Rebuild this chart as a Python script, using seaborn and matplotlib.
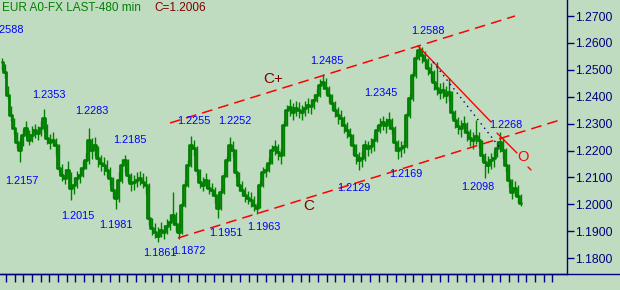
import numpy as np
import pandas as pd
import seaborn as sns
import matplotlib
matplotlib.use("Agg")
import matplotlib.pyplot as plt
from matplotlib.lines import Line2D

# ---------------- data ----------------
close = [1.2529, 1.2492, 1.2406, 1.2332, 1.2284, 1.2232, 1.2202, 1.2257, 1.2284, 1.2239,
         1.2257, 1.2276, 1.2265, 1.2284, 1.2321, 1.2246, 1.2232, 1.2239, 1.2220, 1.2135,
         1.2109, 1.2098, 1.2127, 1.2061, 1.2072, 1.2098, 1.2109, 1.2135, 1.2164, 1.2239,
         1.2202, 1.2220, 1.2172, 1.2153, 1.2146, 1.2127, 1.2098, 1.2053, 1.2024, 1.2090,
         1.2146, 1.2164, 1.2109, 1.2079, 1.2083, 1.2090, 1.2098, 1.2083, 1.2072, 1.1949,
         1.1912, 1.1897, 1.1882, 1.1905, 1.1897, 1.1920, 1.1934, 1.1960, 1.1927, 1.1897,
         1.1997, 1.2072, 1.2146, 1.2220, 1.2209, 1.2127, 1.2083, 1.2072, 1.2090, 1.2061,
         1.2053, 1.2034, 1.1986, 1.2046, 1.2105, 1.2164, 1.2220, 1.2202, 1.2120, 1.2072,
         1.2053, 1.2034, 1.2024, 1.2016, 1.1997, 1.1986, 1.2072, 1.2120, 1.2127, 1.2153,
         1.2202, 1.2213, 1.2194, 1.2183, 1.2294, 1.2350, 1.2362, 1.2343, 1.2358, 1.2350,
         1.2343, 1.2358, 1.2369, 1.2365, 1.2388, 1.2406, 1.2443, 1.2455, 1.2432, 1.2406,
         1.2377, 1.2350, 1.2332, 1.2321, 1.2294, 1.2276, 1.2257, 1.2220, 1.2183, 1.2164,
         1.2172, 1.2220, 1.2209, 1.2217, 1.2239, 1.2276, 1.2294, 1.2306, 1.2294, 1.2313,
         1.2284, 1.2232, 1.2202, 1.2209, 1.2217, 1.2332, 1.2395, 1.2481, 1.2544, 1.2574,
         1.2555, 1.2536, 1.2507, 1.2492, 1.2455, 1.2432, 1.2417, 1.2425, 1.2406, 1.2417,
         1.2343, 1.2313, 1.2291, 1.2284, 1.2298, 1.2269, 1.2246, 1.2239, 1.2254, 1.2239,
         1.2183, 1.2157, 1.2146, 1.2164, 1.2172, 1.2209, 1.2232, 1.2202, 1.2146, 1.2090,
         1.2046, 1.2061, 1.2031, 1.2006]

high = [1.2545, 1.2520, 1.2440, 1.2365, 1.2320, 1.2270, 1.2245, 1.2280, 1.2310, 1.2275,
        1.2290, 1.2300, 1.2290, 1.2310, 1.2353, 1.2300, 1.2260, 1.2270, 1.2245, 1.2225,
        1.2150, 1.2130, 1.2160, 1.2120, 1.2100, 1.2125, 1.2140, 1.2160, 1.2190, 1.2283,
        1.2245, 1.2250, 1.2215, 1.2185, 1.2175, 1.2165, 1.2140, 1.2100, 1.2060, 1.2120,
        1.2170, 1.2185, 1.2170, 1.2115, 1.2110, 1.2120, 1.2125, 1.2115, 1.2105, 1.2080,
        1.1950, 1.1930, 1.1915, 1.1935, 1.1925, 1.1945, 1.1965, 1.2045, 1.1970, 1.1935,
        1.2010, 1.2090, 1.2165, 1.2255, 1.2240, 1.2215, 1.2130, 1.2100, 1.2115, 1.2095,
        1.2080, 1.2065, 1.2040, 1.2060, 1.2120, 1.2180, 1.2252, 1.2235, 1.2205, 1.2120,
        1.2085, 1.2065, 1.2050, 1.2045, 1.2030, 1.2010, 1.2085, 1.2140, 1.2150, 1.2175,
        1.2220, 1.2240, 1.2225, 1.2210, 1.2310, 1.2370, 1.2390, 1.2375, 1.2385, 1.2380,
        1.2370, 1.2385, 1.2395, 1.2390, 1.2410, 1.2430, 1.2465, 1.2485, 1.2470, 1.2440,
        1.2410, 1.2385, 1.2360, 1.2350, 1.2330, 1.2305, 1.2285, 1.2260, 1.2225, 1.2195,
        1.2200, 1.2240, 1.2235, 1.2245, 1.2260, 1.2295, 1.2320, 1.2330, 1.2320, 1.2345,
        1.2320, 1.2290, 1.2240, 1.2235, 1.2240, 1.2345, 1.2410, 1.2495, 1.2560, 1.2588,
        1.2585, 1.2570, 1.2545, 1.2525, 1.2500, 1.2530, 1.2450, 1.2455, 1.2440, 1.2470,
        1.2420, 1.2350, 1.2325, 1.2315, 1.2330, 1.2305, 1.2280, 1.2270, 1.2313, 1.2270,
        1.2240, 1.2190, 1.2180, 1.2190, 1.2200, 1.2235, 1.2268, 1.2245, 1.2210, 1.2150,
        1.2095, 1.2085, 1.2070, 1.2040]

low = [1.2500, 1.2470, 1.2390, 1.2310, 1.2260, 1.2210, 1.2157, 1.2215, 1.2250, 1.2220,
       1.2230, 1.2245, 1.2240, 1.2255, 1.2270, 1.2225, 1.2205, 1.2215, 1.2185, 1.2120,
       1.2085, 1.2075, 1.2095, 1.2015, 1.2040, 1.2060, 1.2080, 1.2100, 1.2130, 1.2150,
       1.2170, 1.2180, 1.2140, 1.2125, 1.2110, 1.2100, 1.2070, 1.2025, 1.1981, 1.2010,
       1.2080, 1.2120, 1.2085, 1.2050, 1.2055, 1.2065, 1.2070, 1.2060, 1.2040, 1.1925,
       1.1885, 1.1875, 1.1861, 1.1880, 1.1870, 1.1890, 1.1905, 1.1925, 1.1900, 1.1872,
       1.1890, 1.1990, 1.2065, 1.2140, 1.2180, 1.2110, 1.2060, 1.2050, 1.2060, 1.2040,
       1.2030, 1.2005, 1.1951, 1.1980, 1.2040, 1.2100, 1.2160, 1.2175, 1.2100, 1.2050,
       1.2030, 1.2010, 1.2000, 1.1990, 1.1975, 1.1963, 1.1985, 1.2065, 1.2100, 1.2120,
       1.2150, 1.2185, 1.2165, 1.2150, 1.2180, 1.2290, 1.2330, 1.2315, 1.2330, 1.2320,
       1.2315, 1.2330, 1.2340, 1.2335, 1.2355, 1.2380, 1.2400, 1.2430, 1.2410, 1.2380,
       1.2350, 1.2325, 1.2300, 1.2290, 1.2265, 1.2245, 1.2220, 1.2185, 1.2150, 1.2129,
       1.2140, 1.2160, 1.2180, 1.2190, 1.2200, 1.2230, 1.2265, 1.2275, 1.2265, 1.2280,
       1.2260, 1.2200, 1.2169, 1.2175, 1.2190, 1.2210, 1.2320, 1.2385, 1.2470, 1.2535,
       1.2525, 1.2505, 1.2480, 1.2460, 1.2425, 1.2405, 1.2390, 1.2395, 1.2375, 1.2385,
       1.2320, 1.2285, 1.2260, 1.2250, 1.2265, 1.2235, 1.2215, 1.2205, 1.2225, 1.2210,
       1.2160, 1.2098, 1.2115, 1.2130, 1.2140, 1.2175, 1.2195, 1.2170, 1.2120, 1.2065,
       1.2020, 1.2030, 1.2005, 1.1995]

price_ticks = [1.18, 1.19, 1.20, 1.21, 1.22, 1.23, 1.24, 1.25, 1.26, 1.27]
peak_texts = ["1.2588", "1.2353", "1.2283", "1.2185", "1.2157", "1.2015", "1.1981",
              "1.1861", "1.1872", "1.2255", "1.2252", "1.1951", "1.1963", "1.2485",
              "1.2345", "1.2129", "1.2169", "1.2588", "1.2268", "1.2098"]
title_text = "EUR A0-FX LAST-480 min"
last_text = "C=1.2006"

# ---------------- layout helpers ----------------
W, H = 620, 290
Y0, PPU = 1.27595, 0.0003717       # price at top edge, price per pixel


def px(x):  # pixel x -> bar index
    return (x - 1.5) / 3.0


def py(y):  # pixel y -> price
    return Y0 - PPU * y


BG = "#C0DCC0"
NAVY = "#000080"
GREEN = "#008000"
BLUE = "#0000FF"
DRED = "#800000"
RED = "#FF0000"

sns.set_style("white", {"axes.facecolor": BG, "figure.facecolor": BG})
plt.rcParams["font.family"] = ["Liberation Sans", "DejaVu Sans"]

fig = plt.figure(figsize=(W / 100, H / 100), dpi=100)
fig.patch.set_facecolor(BG)
ax = fig.add_axes([0, 16 / H, 567 / W, 274 / H])
ax.set_facecolor(BG)

bars = np.arange(len(close))
df = pd.DataFrame({"bar": bars, "close": close, "high": high, "low": low})

ax.vlines(df["bar"], df["low"], df["high"], color=GREEN, lw=1.0, zorder=3)
sns.lineplot(data=df, x="bar", y="close", color=GREEN, lw=2.0,
             drawstyle="steps-mid", ax=ax, zorder=4)

# trend / channel lines
dash = (0, (7, 4))
ax.plot([px(170), px(515)], [py(123), py(16)], color=RED, lw=1.1, ls=dash, zorder=5)
ax.plot([px(178), px(560)], [py(238), py(120)], color=RED, lw=1.1, ls=dash, zorder=5)
ax.plot([px(418), px(491)], [py(46), py(122)], color=RED, lw=1.0, zorder=5)
ax.plot([px(497), px(517)], [py(133), py(153)], color=RED, lw=1.0, zorder=5)
ax.plot([px(528), px(531)], [py(167), py(170)], color=RED, lw=1.0, zorder=5)
ax.plot([px(433), px(500)], [py(62), py(148)], color=NAVY, lw=1.0,
        ls=(0, (1, 3)), zorder=5)

# peak labels (left x, center y in pixels)
label_pos = [(-10, 30), (32, 95), (75, 111), (113, 140), (5, 181), (61, 216),
             (99, 225), (143, 253), (172, 251), (177, 121), (218, 121), (209, 233),
             (247, 227), (310, 61), (364, 93), (337, 188), (389, 174), (411, 31),
             (489, 125), (461, 187)]
for t, (lx, ly) in zip(peak_texts, label_pos):
    ax.text(px(lx), py(ly), t, color=BLUE, fontsize=7.8, ha="left", va="center",
            zorder=6)

ax.text(px(263), py(79), "C+", color=DRED, fontsize=11, ha="left", va="center", zorder=6)
ax.text(px(303), py(206), "C", color=DRED, fontsize=11, ha="left", va="center", zorder=6)
ax.text(px(517), py(157), "O", color=RED, fontsize=10.5, ha="left", va="center", zorder=6)

fig.text(2 / W, 1 - 8 / H, title_text, color=GREEN, fontsize=8.5, ha="left", va="center")
fig.text(154 / W, 1 - 8 / H, last_text, color=DRED, fontsize=8.5, ha="left", va="center")

# axes styling
ax.set_xlim(px(0), px(567))
ax.set_ylim(py(274), py(0))
ax.set_xlabel("")
ax.set_ylabel("")
for s in ["top", "left"]:
    ax.spines[s].set_visible(False)
for s in ["right", "bottom"]:
    ax.spines[s].set_visible(True)
    ax.spines[s].set_color(NAVY)
    ax.spines[s].set_linewidth(1.0)

ax.yaxis.tick_right()
ax.set_yticks(price_ticks)
ax.set_yticklabels([f"{v:.4f}" for v in price_ticks])
ax.tick_params(axis="y", direction="out", length=5, width=1, color=NAVY,
               labelcolor=NAVY, labelsize=8.8, pad=1, right=True, left=False)
ax.set_xticks([px(6 + 8.67 * k) for k in range(64)])
ax.set_xticklabels([])
ax.tick_params(axis="x", direction="out", length=6, width=1, color=NAVY, bottom=True)

fig.add_artist(Line2D([0, 1], [16 / H, 16 / H], transform=fig.transFigure,
                      color=NAVY, lw=1.0))

fig.savefig("out.png", dpi=100, facecolor=BG)
